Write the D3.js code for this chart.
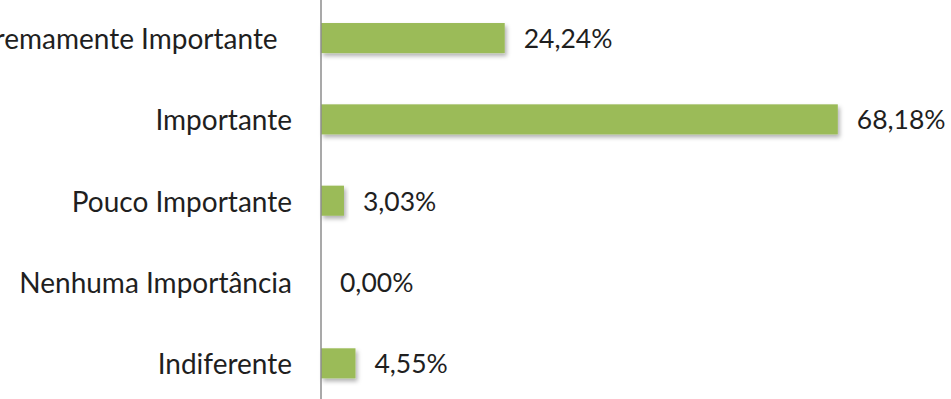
<!DOCTYPE html>
<html><head><meta charset="utf-8">
<script src="https://cdn.jsdelivr.net/npm/d3@7"></script>
<style>
html,body{margin:0;padding:0;background:#fff;}
svg{display:block;}
text{font-family:Lato,"Open Sans",sans-serif;fill:#1f1f1f;white-space:pre;}
</style></head>
<body><svg id="c" width="951" height="399"></svg>
<script>
const categories = ["Extremamente Importante  ", "Importante", "Pouco Importante", "Nenhuma Importância", "Indiferente"];
const values = [24.24, 68.18, 3.03, 0.00, 4.55];
const valueLabels = ["24,24%", "68,18%", "3,03%", "0,00%", "4,55%"];

const svg = d3.select("#c");
const axisX = 321;
const x = d3.scaleLinear().domain([0, 80]).range([axisX, axisX + 606.4]);
const y = d3.scaleBand().domain(categories).range([-2.6, 404]).paddingInner(0.63).paddingOuter(0.315);

const defs = svg.append("defs");
const f = defs.append("filter").attr("id","sh").attr("x","-10%").attr("y","-30%").attr("width","130%").attr("height","190%");
f.append("feDropShadow").attr("dx",2).attr("dy",3).attr("stdDeviation",2).attr("flood-color","#000").attr("flood-opacity",0.3);

svg.selectAll("rect.bar").data(values).join("rect").attr("class","bar")
  .attr("x", x(0))
  .attr("y", (d,i)=>y(categories[i]))
  .attr("width", d=>x(d)-x(0))
  .attr("height", y.bandwidth())
  .attr("fill", "#9BBB59")
  .attr("filter", "url(#sh)");

svg.append("line").attr("x1",axisX).attr("x2",axisX).attr("y1",0).attr("y2",399)
  .attr("stroke","#8c8c8c").attr("stroke-width",1.5);

svg.selectAll("text.cat").data(categories).join("text").attr("class","cat")
  .attr("x", 292)
  .attr("y", d=>y(d)+y.bandwidth()/2)
  .attr("text-anchor","end")
  .attr("dominant-baseline","central")
  .attr("font-size", 28)
  .text(d=>d);

svg.selectAll("text.val").data(values).join("text").attr("class","val")
  .attr("x", d=>x(d)+19)
  .attr("y", (d,i)=>y(categories[i])+y.bandwidth()/2)
  .attr("dominant-baseline","central")
  .attr("font-size", 26.5)
  .text((d,i)=>valueLabels[i]);
</script></body></html>
